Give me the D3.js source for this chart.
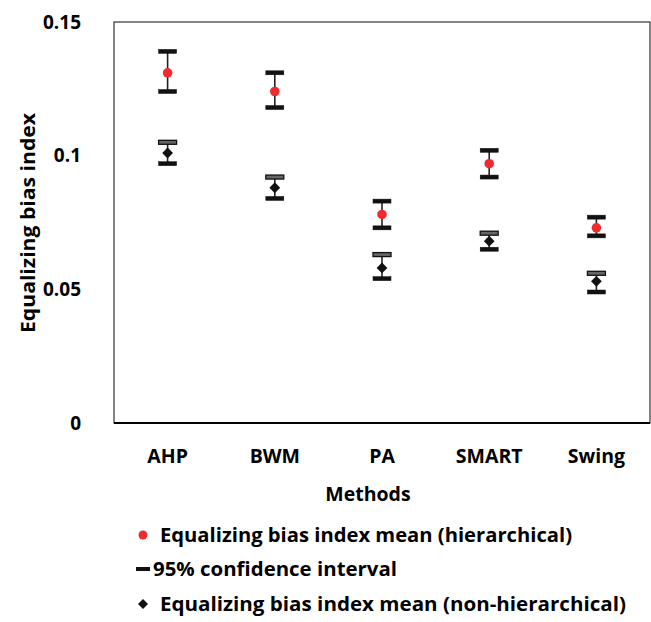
<!DOCTYPE html>
<html>
<head>
<meta charset="utf-8">
<script src="https://cdn.jsdelivr.net/npm/d3@7"></script>
<style>
  body { margin: 0; background: #fff; }
  text { font-family: "Open Sans", sans-serif; font-weight: bold; fill: #000; }
</style>
</head>
<body>
<svg id="chart" width="651" height="622"></svg>
<script>
// data
var methods = ['AHP', 'BWM', 'PA', 'SMART', 'Swing'];
var hierMean = [0.131, 0.124, 0.078, 0.097, 0.073];
var hierLow  = [0.124, 0.118, 0.073, 0.092, 0.070];
var hierHigh = [0.139, 0.131, 0.083, 0.102, 0.077];
var flatMean = [0.101, 0.088, 0.058, 0.068, 0.053];
var flatLow  = [0.097, 0.084, 0.054, 0.065, 0.049];
var flatHigh = [0.105, 0.092, 0.063, 0.071, 0.056];
var yTicks = [0, 0.05, 0.1, 0.15];
var legendLabels = ['Equalizing bias index mean (hierarchical)', '95% confidence interval',
                    'Equalizing bias index mean (non-hierarchical)'];

var margin = {left: 114, top: 22, right: 1, bottom: 199};
var width = 651 - margin.left - margin.right;
var height = 622 - margin.top - margin.bottom;

var svg = d3.select('#chart');
var g = svg.append('g')
           .attr('transform', 'translate(' + margin.left + ',' + margin.top + ')');

var x = d3.scaleBand().domain(methods).range([0, width]);
var y = d3.scaleLinear().domain([0, 0.15]).range([height, 0]);

// frame
g.append('rect')
 .attr('x', 0).attr('y', 0)
 .attr('width', width).attr('height', height)
 .style('fill', 'none')
 .style('stroke', '#333')
 .style('stroke-width', 1.2);
g.append('line')
 .attr('x1', 0).attr('x2', width)
 .attr('y1', height).attr('y2', height)
 .style('stroke', '#000').style('stroke-width', 2);

// y axis labels
var yAxis = d3.axisLeft(y).tickValues(yTicks).tickSize(0).tickPadding(33)
              .tickFormat(function(d){ return d === 0 ? '0' : String(d); });
var ya = g.append('g').call(yAxis);
ya.select('.domain').remove();
ya.selectAll('text').style('font-size', '19px').style('font-family', '"Open Sans", sans-serif').style('font-weight', 'bold');

// x axis labels
var xAxis = d3.axisBottom(x).tickSize(0).tickPadding(26);
var xa = g.append('g').attr('transform', 'translate(0,' + height + ')').call(xAxis);
xa.select('.domain').remove();
xa.selectAll('text').style('font-size', '19.5px').style('font-family', '"Open Sans", sans-serif').style('font-weight', 'bold');

// axis titles
svg.append('text')
   .attr('x', 368).attr('y', 501)
   .attr('text-anchor', 'middle')
   .style('font-size', '19.5px')
   .text('Methods');
svg.append('text')
   .attr('transform', 'translate(35,223) rotate(-90)')
   .attr('text-anchor', 'middle')
   .attr('textLength', 220)
   .attr('lengthAdjust', 'spacingAndGlyphs')
   .style('font-size', '20px')
   .text('Equalizing bias index');

var capW = 18;

function drawSeries(mean, low, high, kind){
  var grp = g.append('g');
  methods.forEach(function(m, i){
    var cx = x(m) + x.bandwidth() / 2;
    grp.append('line')
       .attr('x1', cx).attr('x2', cx)
       .attr('y1', y(high[i])).attr('y2', y(low[i]))
       .style('stroke', '#222').style('stroke-width', 1.6);
    // caps
    grp.append('rect')
       .attr('x', cx - capW / 2).attr('y', y(high[i]) - 2)
       .attr('width', capW).attr('height', 4)
       .style('fill', kind === 'flat' ? '#666' : '#111')
       .style('stroke', '#111').style('stroke-width', kind === 'flat' ? 1.3 : 0.5);
    grp.append('rect')
       .attr('x', cx - capW / 2).attr('y', y(low[i]) - 2)
       .attr('width', capW).attr('height', 4)
       .style('fill', '#111').style('stroke', '#111').style('stroke-width', 0.5);
    if(kind === 'flat'){
      grp.append('path')
         .attr('d', d3.symbol().type(d3.symbolSquare).size(58)())
         .attr('transform', 'translate(' + cx + ',' + y(mean[i]) + ') rotate(45)')
         .style('fill', '#111');
    }else{
      grp.append('circle')
         .attr('cx', cx).attr('cy', y(mean[i])).attr('r', 4.8)
         .style('fill', '#ef2b30');
    }
  });
}

drawSeries(hierMean, hierLow, hierHigh, 'hier');
drawSeries(flatMean, flatLow, flatHigh, 'flat');

// legend
var leg = svg.append('g');
var legY = [535, 569, 604];
leg.append('circle').attr('cx', 143).attr('cy', legY[0]).attr('r', 4.5).style('fill', '#ef2b30');
leg.append('rect').attr('x', 136).attr('y', legY[1] - 2).attr('width', 14).attr('height', 4).style('fill', '#111');
leg.append('path')
   .attr('d', d3.symbol().type(d3.symbolSquare).size(50)())
   .attr('transform', 'translate(143,' + legY[2] + ') rotate(45)')
   .style('fill', '#111');
var legX = [160, 153, 160];
var legEnd = [572, 397, 626];
legendLabels.forEach(function(t, i){
  leg.append('text')
     .attr('x', legX[i]).attr('y', legY[i]).attr('dy', '0.35em')
     .attr('textLength', legEnd[i] - legX[i])
     .attr('lengthAdjust', 'spacingAndGlyphs')
     .style('font-size', '19.5px')
     .text(t);
});
</script>
</body>
</html>
